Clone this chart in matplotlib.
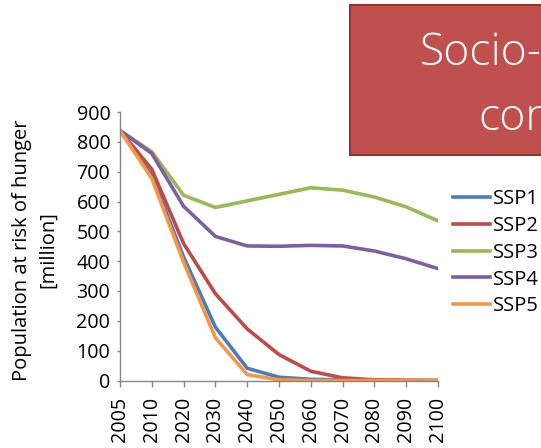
import numpy as np
import matplotlib
matplotlib.use("Agg")
import matplotlib.pyplot as plt
from matplotlib.patches import Rectangle

plt.rcParams['font.family'] = ['Open Sans', 'DejaVu Sans']

years = ['2005', '2010', '2020', '2030', '2040', '2050', '2060', '2070', '2080', '2090', '2100']
ssp1 = [838, 688, 414, 179, 41, 11, 4, 2, 1, 0, 0]
ssp2 = [838, 708, 459, 291, 173, 87, 31, 9, 2, 1, 0]
ssp3 = [838, 767, 621, 580, 602, 624, 646, 638, 615, 582, 535]
ssp4 = [838, 761, 584, 483, 451, 450, 453, 451, 434, 408, 375]
ssp5 = [838, 677, 397, 143, 20, 2, 0, 0, 0, 0, 0]
nombres = ['SSP1', 'SSP2', 'SSP3', 'SSP4', 'SSP5']
colores = ['#4A7EBB', '#BE4B48', '#98B954', '#7D60A0', '#F79646']

W, H = 541, 448
fig = plt.figure(figsize=(W / 100, H / 100), dpi=100)
ax = fig.add_axes([120 / W, 1 - 380.5 / H, 318 / W, 268.5 / H])

x = np.arange(len(years))
for serie, nombre, color in zip([ssp1, ssp2, ssp3, ssp4, ssp5], nombres, colores):
    ax.plot(x, serie, color=color, lw=2.6, label=nombre, solid_joinstyle='round')

ax.set_xlim(0, len(years) - 1)
ax.set_ylim(0, 900)
ax.set_yticks(np.arange(0, 901, 100))
ax.set_xticks(x)
ax.set_xticklabels(years, rotation=90)

for lado in ['top', 'right']:
    ax.spines[lado].set_visible(False)
for lado in ['left', 'bottom']:
    ax.spines[lado].set_color('#868686')
    ax.spines[lado].set_linewidth(1.0)
ax.tick_params(colors='#868686', width=1.0, labelcolor='black', labelsize=14.2)
ax.tick_params(axis='y', length=2.5, pad=4.5)
ax.tick_params(axis='x', length=4.3, pad=7.5)

fig.text(35 / W, 1 - 250 / H, 'Population at risk of hunger\n[million]', rotation=90,
         ha='center', va='center', multialignment='center', fontsize=14.5, linespacing=1.35)

ax.legend(loc='upper left', bbox_to_anchor=(453 / W, 1 - 189 / H), bbox_transform=fig.transFigure,
          frameon=False, fontsize=14.5, handlelength=1.85, handletextpad=0.15, labelspacing=0.34,
          borderaxespad=0, borderpad=0)

# caja roja del titulo, cortada por el borde
caja = Rectangle((350 / W, 1 - 155 / H), 0.5, 150 / H, transform=fig.transFigure,
                 facecolor='#C0504D', edgecolor='#8C3836', lw=1.5, zorder=5)
fig.add_artist(caja)
fig.text(420 / W, 1 - 65 / H, 'Socio-', color='white', fontsize=32, fontweight='light',
         ha='left', va='baseline', zorder=6)
fig.text(478 / W, 1 - 130 / H, 'con', color='white', fontsize=32, fontweight='light',
         ha='left', va='baseline', zorder=6)

fig.savefig('out.png', dpi=100)
